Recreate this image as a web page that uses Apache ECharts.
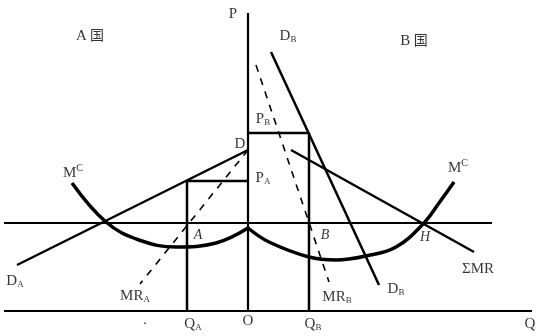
<!DOCTYPE html>
<html>
<head>
<meta charset="utf-8">
<script src="https://cdn.jsdelivr.net/npm/echarts@6/dist/echarts.min.js"></script>
<style>html,body{margin:0;padding:0;background:#fff;}#c{width:539px;height:336px;}</style>
</head>
<body>
<div id="c"></div>
<script>
// ---- data (quantity q: country A plotted leftwards as negative; price p) ----
const priceAxis = [[0, 0], [0, 29.8]];
const quantityAxis = [[-24.4, 0], [28.4, 0]];
const mcLevel = [[-24.4, 8.8], [24.4, 8.8]];
const mcA = [[-17.6, 12.8], [-14.2, 8.9], [-10.9, 7.1], [-7.2, 6.4], [-3.2, 6.8], [0, 8.3]];
const mcB = [[0, 8.3], [2.1, 6.9], [6.1, 5.4], [8.8, 5.1], [11.8, 5.5], [14.8, 6.4], [17.6, 8.8], [19.1, 10.8], [20.6, 12.9]];
const demandA = [[-23.1, 4.6], [0, 16.1]];
const mrA = [[0, 16.1], [-10.8, 2.7]];
const demandB = [[2.3, 25.9], [13.1, 2.6]];
const mrB = [[0.8, 24.6], [8.1, 2.9]];
const sumMR = [[4.3, 16.1], [22.6, 5.9]];
const dropA = [[-6.1, 0], [-6.1, 13.0], [0, 13.0]];
const dropB = [[6.1, 0], [6.1, 17.8], [0, 17.8]];

// ---- annotation texts and anchors ----
const annotations = [
  {t: '{m|P}', at: [-1.5, 29.8]},
  {t: '{m|A} {c|国}', at: [-15.8, 27.6]},
  {t: '{m|B} {c|国}', at: [16.6, 27.1]},
  {t: '{m|D}{s|B}', at: [4.0, 27.6]},
  {t: '{m|P}{s|B}', at: [1.5, 19.3]},
  {t: '{m|D}', at: [-0.8, 16.8]},
  {t: '{m|P}{s|A}', at: [1.5, 13.4]},
  {t: '{m|M}{u|C}', at: [-17.5, 13.9]},
  {t: '{m|M}{u|C}', at: [21.0, 14.4]},
  {t: '{i|A}', at: [-5.0, 7.6]},
  {t: '{i|B}', at: [7.7, 7.6]},
  {t: '{i|H}', at: [17.7, 7.4]},
  {t: '{m|D}{s|A}', at: [-23.3, 3.1]},
  {t: '{m|MR}{s|A}', at: [-11.3, 1.6]},
  {t: '{m|MR}{s|B}', at: [8.9, 1.5]},
  {t: '{m|ΣMR}', at: [23.0, 4.3]},
  {t: '{m|D}{s|B}', at: [14.8, 2.3]},
  {t: '{m|Q}{s|A}', at: [-5.5, -1.2]},
  {t: '{m|O}', at: [0, -0.9]},
  {t: '{m|Q}{s|B}', at: [6.5, -1.2]},
  {t: '{m|Q}', at: [28.2, -1.2]},
  {t: '{m|·}', at: [-10.3, -1.2]}
];

const serif = '"Liberation Serif","DejaVu Serif",serif';
const rich = {
  m: {fontFamily: serif, fontSize: 15, color: '#000', lineHeight: 18, verticalAlign: 'bottom'},
  i: {fontFamily: serif, fontSize: 14, fontStyle: 'italic', color: '#000'},
  s: {fontFamily: serif, fontSize: 9, color: '#000', verticalAlign: 'bottom', lineHeight: 14},
  u: {fontFamily: serif, fontSize: 10, color: '#000', verticalAlign: 'top', lineHeight: 18},
  c: {fontFamily: '"Noto Sans CJK SC",sans-serif', fontSize: 14, color: '#000', lineHeight: 18}
};

function line(data, width, opts) {
  return Object.assign({
    type: 'line', data: data, symbol: 'none', silent: true, animation: false,
    lineStyle: {color: '#000', width: width}
  }, opts || {});
}

const chart = echarts.init(document.getElementById('c'), null, {renderer: 'canvas'});
chart.setOption({
  backgroundColor: '#fff',
  animation: false,
  grid: {left: 0, right: 0, top: 0, bottom: 0},
  xAxis: {type: 'value', min: -24.8, max: 29.1, show: false},
  yAxis: {type: 'value', min: -2.5, max: 31.1, show: false},
  series: [
    line(priceAxis, 2.2),
    line(quantityAxis, 2.2),
    line(mcLevel, 2),
    line(mcA, 3.5, {smooth: 0.4}),
    line(mcB, 3.5, {smooth: 0.4}),
    line(demandA, 2.5),
    line(demandB, 2.5),
    line(sumMR, 2.5),
    line(mrA, 1.6, {lineStyle: {color: '#000', width: 1.6, type: [7, 7]}}),
    line(mrB, 1.6, {lineStyle: {color: '#000', width: 1.6, type: [7, 7]}}),
    line(dropA, 2.5),
    line(dropB, 2.5),
    {
      type: 'scatter', symbolSize: 0, silent: true, animation: false,
      data: annotations.map(a => ({value: a.at, label: {formatter: a.t}})),
      label: {show: true, position: 'inside', rich: rich, color: '#000'}
    }
  ]
});
</script>
</body>
</html>
